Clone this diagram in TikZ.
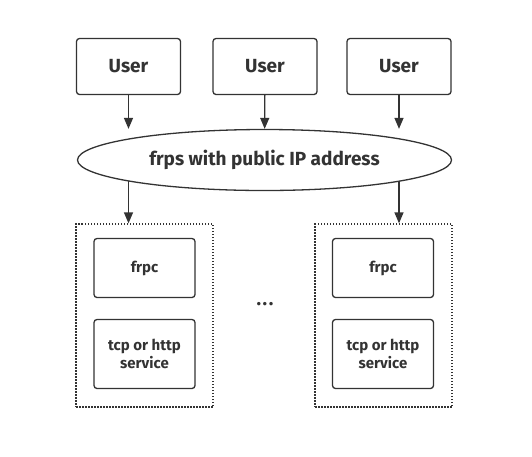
\documentclass[tikz,border=0pt]{standalone}
\usepackage{fontspec}
\setmainfont{Fira Sans}
\usetikzlibrary{arrows.meta,backgrounds,shapes.geometric}
\definecolor{trait}{HTML}{333333}
\tikzset{%
  boite/.style={draw=trait,line width=1.3pt,rounded corners=3pt,text=trait,inner sep=0pt,align=center},%
  grand/.style={font=\bfseries\fontsize{19}{22}\selectfont},%
  petit/.style={font=\bfseries\fontsize{15}{17.3}\selectfont},%
  groupe/.style={draw=trait,line width=1.3pt,dash pattern=on 1.5pt off 1.5pt,minimum width=137pt,minimum height=183pt},%
  fleche/.style={draw=trait,line width=1.3pt,-{Triangle[length=11pt,width=9pt]}}%
}
\begin{document}
\begin{tikzpicture}[x=1pt,y=-1pt]
  \useasboundingbox (0,0) rectangle (532,456);%

  % Utilisateurs
  \node[boite,grand,minimum width=104pt,minimum height=56pt] (U1) at (128.5,66.5) {User};%
  \node[boite,grand,minimum width=104pt,minimum height=56pt] (U2) at (265,66.5) {User};%
  \node[boite,grand,minimum width=104pt,minimum height=56pt] (U3) at (399,66.5) {User};%

  % Serveur
  \node[ellipse,boite,grand,fill=white,minimum width=374pt,minimum height=61pt] (S) at (264.5,160) {frps with public IP address};%

  % Clients
  \node[groupe] (G1) at (144.5,315.5) {};%
  \node[groupe] (G2) at (383.5,315.5) {};%
  \node[boite,petit,minimum width=101pt,minimum height=59pt] (C1) at (144.5,268) {frpc};%
  \node[boite,petit,minimum width=101pt,minimum height=69pt] (T1) at (144.5,354) {tcp or http\\service};%
  \node[boite,petit,minimum width=101pt,minimum height=59pt] (C2) at (383,268) {frpc};%
  \node[boite,petit,minimum width=101pt,minimum height=69pt] (T2) at (383,354) {tcp or http\\service};%
  \node[grand,text=trait,inner sep=0pt] (P) at (265,304.5) {.\kern1.5pt.\kern1.5pt.};%

  % Flèches
  \draw[fleche] (U1) -- (U1 |- S.north);%
  \draw[fleche] (U2) -- (S);%
  \draw[fleche] (U3) -- (U3 |- S.north);%
  \begin{scope}[on background layer]
    \draw[fleche] (U1 |- S.center) -- (U1 |- G1.north);%
    \draw[fleche] (U3 |- S.center) -- (U3 |- G2.north);%
  \end{scope}
\end{tikzpicture}
\end{document}
